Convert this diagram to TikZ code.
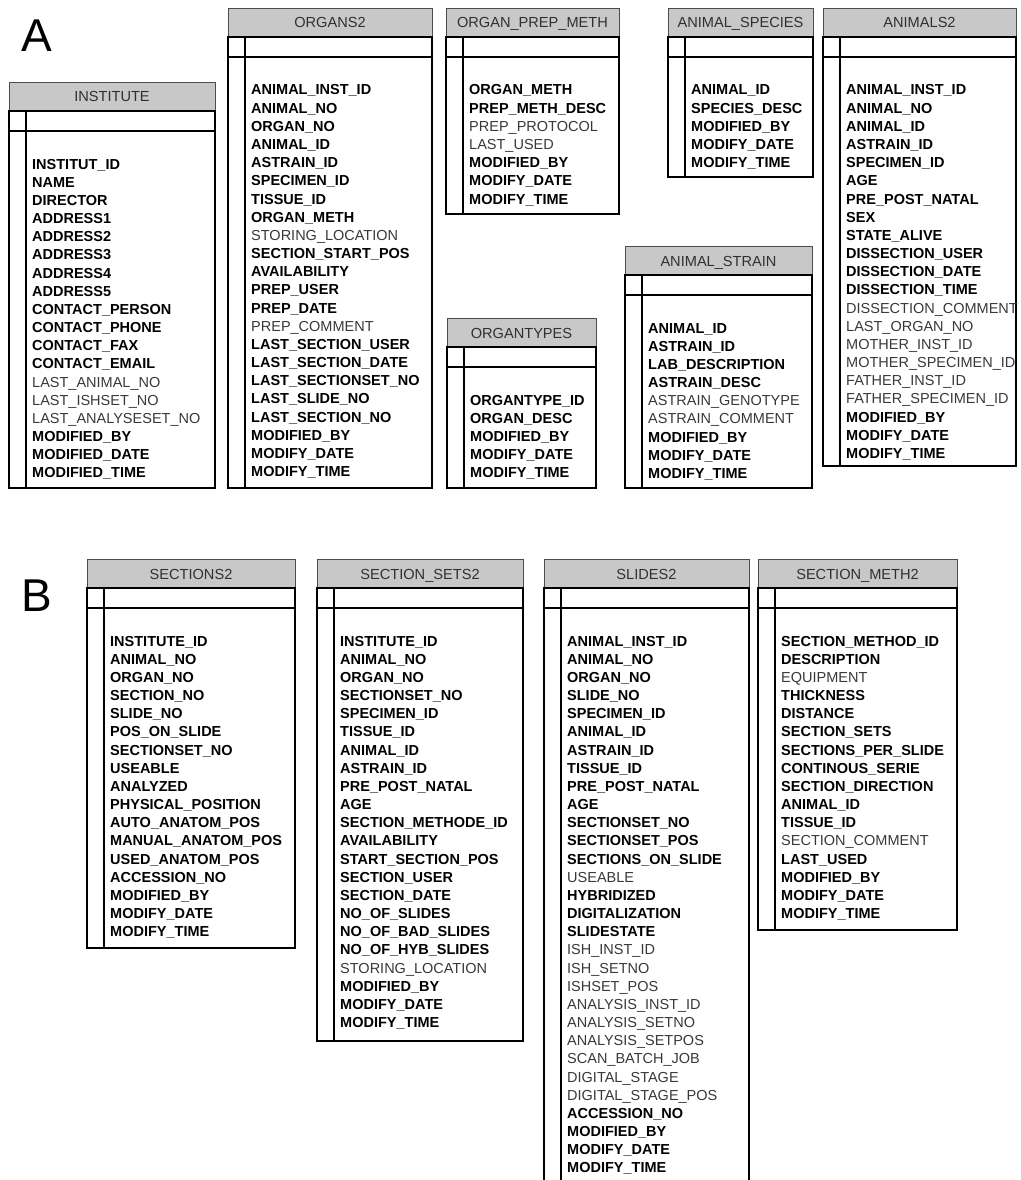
\documentclass[tikz,border=0pt]{standalone}
\usepackage{fontspec}
\setmainfont{Liberation Sans}
\usetikzlibrary{positioning}

\definecolor{headgray}{HTML}{C8C8C8}
\definecolor{headtext}{HTML}{303030}
\definecolor{attrtext}{HTML}{383838}

\tikzset{
  head box/.style = {draw=black!70, line width=0.8pt, fill=headgray},
  table line/.style = {draw=black, line width=1.8pt},
  title/.style = {anchor=base, inner sep=0pt, text=headtext,
                  font=\fontsize{14.6}{17}\selectfont},
  key field/.style = {anchor=base west, inner sep=0pt, text=black,
                      font=\fontsize{14.5}{17}\selectfont\bfseries},
  attr field/.style = {anchor=base west, inner sep=0pt, text=attrtext,
                       font=\fontsize{14.5}{17}\selectfont},
  panel/.style = {anchor=base west, inner sep=0pt,
                  font=\fontsize{46}{50}\selectfont}
}

% #1 id, #2 title, #3 left, #4 top, #5 right, #6 bottom, #7 fields
\newcommand{\dbtable}[7]{%
  \draw[head box] (#3,#4) rectangle (#5,{#4+29});
  \node[title] (#1) at ({(#3+#5)/2},{#4+20}) {#2};
  \draw[table line] (#3,{#4+29}) rectangle (#5,#6);
  \draw[table line] (#3,{#4+49}) -- (#5,{#4+49});
  \draw[table line] ({#3+17},{#4+29}) -- ({#3+17},#6);
  \foreach \w/\f [count=\i] in {#7}
    \node[\w\space field] (#1-\i) at ({#3+23},{#4+87+(\i-1)*18.17}) {\f};
}

\begin{document}
\begin{tikzpicture}[x=1pt, y=-1pt]
  \clip (0,0) rectangle (1020,1180);

  \node[panel] (A) at (21,52) {A};
  \node[panel] (B) at (21,611) {B};

  % part A
  \dbtable{institute}{INSTITUTE}{9}{82}{215}{488}{%
    key/INSTITUT\_ID, key/NAME, key/DIRECTOR, key/ADDRESS1, key/ADDRESS2,
    key/ADDRESS3, key/ADDRESS4, key/ADDRESS5, key/CONTACT\_PERSON,
    key/CONTACT\_PHONE, key/CONTACT\_FAX, key/CONTACT\_EMAIL,
    attr/LAST\_ANIMAL\_NO, attr/LAST\_ISHSET\_NO, attr/LAST\_ANALYSESET\_NO,
    key/MODIFIED\_BY, key/MODIFIED\_DATE, key/MODIFIED\_TIME}

  \dbtable{organs}{ORGANS2}{228}{8}{432}{488}{%
    key/ANIMAL\_INST\_ID, key/ANIMAL\_NO, key/ORGAN\_NO, key/ANIMAL\_ID,
    key/ASTRAIN\_ID, key/SPECIMEN\_ID, key/TISSUE\_ID, key/ORGAN\_METH,
    attr/STORING\_LOCATION, key/SECTION\_START\_POS, key/AVAILABILITY,
    key/PREP\_USER, key/PREP\_DATE, attr/PREP\_COMMENT,
    key/LAST\_SECTION\_USER, key/LAST\_SECTION\_DATE,
    key/LAST\_SECTIONSET\_NO, key/LAST\_SLIDE\_NO, key/LAST\_SECTION\_NO,
    key/MODIFIED\_BY, key/MODIFY\_DATE, key/MODIFY\_TIME}

  \dbtable{prepmeth}{ORGAN\_PREP\_METH}{446}{8}{619}{214}{%
    key/ORGAN\_METH, key/PREP\_METH\_DESC, attr/PREP\_PROTOCOL,
    attr/LAST\_USED, key/MODIFIED\_BY, key/MODIFY\_DATE, key/MODIFY\_TIME}

  \dbtable{species}{ANIMAL\_SPECIES}{668}{8}{813}{177}{%
    key/ANIMAL\_ID, key/SPECIES\_DESC, key/MODIFIED\_BY, key/MODIFY\_DATE,
    key/MODIFY\_TIME}

  \dbtable{animals}{ANIMALS2}{823}{8}{1016}{466}{%
    key/ANIMAL\_INST\_ID, key/ANIMAL\_NO, key/ANIMAL\_ID, key/ASTRAIN\_ID,
    key/SPECIMEN\_ID, key/AGE, key/PRE\_POST\_NATAL, key/SEX,
    key/STATE\_ALIVE, key/DISSECTION\_USER, key/DISSECTION\_DATE,
    key/DISSECTION\_TIME, attr/DISSECTION\_COMMENT, attr/LAST\_ORGAN\_NO,
    attr/MOTHER\_INST\_ID, attr/MOTHER\_SPECIMEN\_ID, attr/FATHER\_INST\_ID,
    attr/FATHER\_SPECIMEN\_ID, key/MODIFIED\_BY, key/MODIFY\_DATE,
    key/MODIFY\_TIME}

  \dbtable{strain}{ANIMAL\_STRAIN}{625}{246}{812}{488}{%
    key/ANIMAL\_ID, key/ASTRAIN\_ID, key/LAB\_DESCRIPTION, key/ASTRAIN\_DESC,
    attr/ASTRAIN\_GENOTYPE, attr/ASTRAIN\_COMMENT, key/MODIFIED\_BY,
    key/MODIFY\_DATE, key/MODIFY\_TIME}

  \dbtable{organtypes}{ORGANTYPES}{447}{318}{596}{488}{%
    key/ORGANTYPE\_ID, key/ORGAN\_DESC, key/MODIFIED\_BY, key/MODIFY\_DATE,
    key/MODIFY\_TIME}

  % part B
  \dbtable{sections}{SECTIONS2}{87}{559}{295}{948}{%
    key/INSTITUTE\_ID, key/ANIMAL\_NO, key/ORGAN\_NO, key/SECTION\_NO,
    key/SLIDE\_NO, key/POS\_ON\_SLIDE, key/SECTIONSET\_NO, key/USEABLE,
    key/ANALYZED, key/PHYSICAL\_POSITION, key/AUTO\_ANATOM\_POS,
    key/MANUAL\_ANATOM\_POS, key/USED\_ANATOM\_POS, key/ACCESSION\_NO,
    key/MODIFIED\_BY, key/MODIFY\_DATE, key/MODIFY\_TIME}

  \dbtable{sectionsets}{SECTION\_SETS2}{317}{559}{523}{1041}{%
    key/INSTITUTE\_ID, key/ANIMAL\_NO, key/ORGAN\_NO, key/SECTIONSET\_NO,
    key/SPECIMEN\_ID, key/TISSUE\_ID, key/ANIMAL\_ID, key/ASTRAIN\_ID,
    key/PRE\_POST\_NATAL, key/AGE, key/SECTION\_METHODE\_ID,
    key/AVAILABILITY, key/START\_SECTION\_POS, key/SECTION\_USER,
    key/SECTION\_DATE, key/NO\_OF\_SLIDES, key/NO\_OF\_BAD\_SLIDES,
    key/NO\_OF\_HYB\_SLIDES, attr/STORING\_LOCATION, key/MODIFIED\_BY,
    key/MODIFY\_DATE, key/MODIFY\_TIME}

  \dbtable{slides}{SLIDES2}{544}{559}{749}{1192}{%
    key/ANIMAL\_INST\_ID, key/ANIMAL\_NO, key/ORGAN\_NO, key/SLIDE\_NO,
    key/SPECIMEN\_ID, key/ANIMAL\_ID, key/ASTRAIN\_ID, key/TISSUE\_ID,
    key/PRE\_POST\_NATAL, key/AGE, key/SECTIONSET\_NO, key/SECTIONSET\_POS,
    key/SECTIONS\_ON\_SLIDE, attr/USEABLE, key/HYBRIDIZED,
    key/DIGITALIZATION, key/SLIDESTATE, attr/ISH\_INST\_ID, attr/ISH\_SETNO,
    attr/ISHSET\_POS, attr/ANALYSIS\_INST\_ID, attr/ANALYSIS\_SETNO,
    attr/ANALYSIS\_SETPOS, attr/SCAN\_BATCH\_JOB, attr/DIGITAL\_STAGE,
    attr/DIGITAL\_STAGE\_POS, key/ACCESSION\_NO, key/MODIFIED\_BY,
    key/MODIFY\_DATE, key/MODIFY\_TIME}

  \dbtable{sectionmeth}{SECTION\_METH2}{758}{559}{957}{930}{%
    key/SECTION\_METHOD\_ID, key/DESCRIPTION, attr/EQUIPMENT, key/THICKNESS,
    key/DISTANCE, key/SECTION\_SETS, key/SECTIONS\_PER\_SLIDE,
    key/CONTINOUS\_SERIE, key/SECTION\_DIRECTION, key/ANIMAL\_ID,
    key/TISSUE\_ID, attr/SECTION\_COMMENT, key/LAST\_USED, key/MODIFIED\_BY,
    key/MODIFY\_DATE, key/MODIFY\_TIME}
\end{tikzpicture}
\end{document}
